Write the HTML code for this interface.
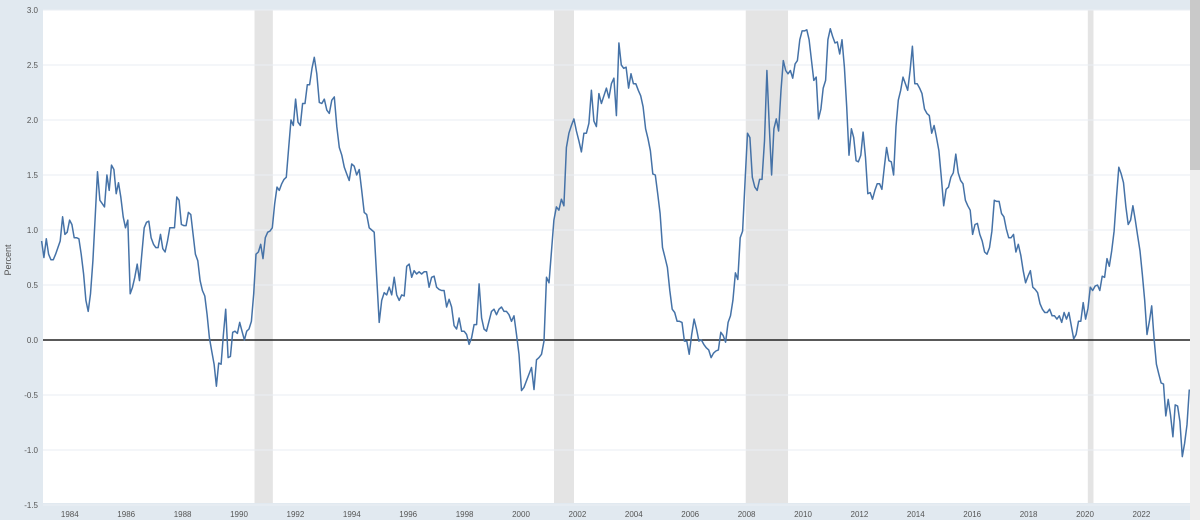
<!DOCTYPE html>
<html><head><meta charset="utf-8">
<style>
html,body{margin:0;padding:0;background:#e1e9f0;}
body{width:1200px;height:520px;overflow:hidden;font-family:"Liberation Sans",sans-serif;}
svg{display:block}
</style></head>
<body>
<svg id="chart" width="1200" height="520" xmlns="http://www.w3.org/2000/svg">
<rect x="0" y="0" width="1200" height="520" fill="#e1e9f0"/>
<rect x="43" y="10" width="1147" height="493" fill="#ffffff"/>
<g id="rec"></g>
<g id="grid"></g>
<g id="yt"></g>
<g id="xt"></g>
<line id="zero" stroke="#222" stroke-width="1.5"/>
<path id="line" fill="none" stroke="#4572a7" stroke-width="1.5" stroke-linejoin="round"/>
<text x="11" y="260" transform="rotate(-90 11 260)" text-anchor="middle" font-size="9" fill="#555">Percent</text>
<rect x="1190" y="0" width="10" height="520" fill="#eeeeee"/>
<rect x="1190" y="0" width="10" height="170" fill="#c9c9c9"/>
</svg>
<script>
const yTicks=[3.0,2.5,2.0,1.5,1.0,0.5,0.0,-0.5,-1.0,-1.5];
const xTicks=[1984,1986,1988,1990,1992,1994,1996,1998,2000,2002,2004,2006,2008,2010,2012,2014,2016,2018,2020,2022];
const recStarts=[1990.55,2001.17,2007.97,2020.1];
const recEnds=[1991.2,2001.88,2009.47,2020.3];
const segStarts=[1983.0,1992.67,2003.47,2008.72,2013.88,2019.6,2021.2];
const segEnds=[1992.67,2003.47,2008.72,2013.88,2019.6,2021.2,2023.7];
const seg1=[0.90,0.75,0.92,0.78,0.73,0.73,0.78,0.84,0.90,1.12,0.96,0.98,1.09,1.05,0.93,0.93,0.92,0.78,0.60,0.36,0.26,0.42,0.72,1.12,1.53,1.27,1.24,1.21,1.50,1.36,1.59,1.55,1.33,1.43,1.30,1.12,1.02,1.09,0.42,0.48,0.57,0.69,0.54,0.78,1.02,1.07,1.08,0.93,0.87,0.84,0.84,0.96,0.83,0.80,0.90,1.02,1.02,1.02,1.30,1.27,1.05,1.04,1.04,1.16,1.14,0.96,0.78,0.72,0.54,0.45,0.40,0.23,0.02,-0.10,-0.22,-0.42,-0.21,-0.22,0.05,0.28,-0.16,-0.15,0.07,0.08,0.06,0.16,0.08,0.00,0.08,0.10,0.17,0.42,0.78,0.80,0.87,0.74,0.93,0.98,0.99,1.02,1.24,1.39,1.36,1.42,1.46,1.48,1.75,2.00,1.95,2.19,1.98,1.95,2.15,2.15,2.32,2.32,2.47,2.57];
const seg2=[2.57,2.42,2.16,2.15,2.19,2.09,2.06,2.18,2.21,1.94,1.75,1.68,1.57,1.51,1.45,1.60,1.58,1.50,1.55,1.36,1.16,1.14,1.02,1.00,0.98,0.57,0.16,0.36,0.43,0.41,0.48,0.41,0.57,0.41,0.36,0.41,0.40,0.67,0.69,0.57,0.63,0.60,0.62,0.60,0.62,0.62,0.48,0.57,0.58,0.48,0.46,0.45,0.45,0.30,0.37,0.30,0.13,0.10,0.20,0.08,0.08,0.05,-0.04,0.02,0.14,0.14,0.51,0.20,0.10,0.08,0.17,0.26,0.28,0.23,0.28,0.30,0.26,0.26,0.23,0.17,0.22,0.05,-0.13,-0.46,-0.43,-0.37,-0.31,-0.25,-0.45,-0.18,-0.16,-0.13,-0.01,0.57,0.52,0.81,1.09,1.21,1.18,1.28,1.22,1.75,1.88,1.95,2.01,1.90,1.81,1.71,1.88,1.88,1.97,2.27,1.99,1.94,2.24,2.15,2.22,2.29,2.20,2.33,2.38,2.04,2.70];
const seg3=[2.70,2.50,2.47,2.48,2.29,2.42,2.33,2.33,2.27,2.22,2.12,1.92,1.83,1.72,1.51,1.50,1.33,1.15,0.84,0.75,0.66,0.45,0.28,0.25,0.17,0.17,0.16,-0.01,-0.01,-0.13,0.05,0.19,0.10,-0.01,0.00,-0.04,-0.07,-0.09,-0.16,-0.12,-0.10,-0.09,0.07,0.04,-0.02,0.16,0.22,0.36,0.61,0.55,0.93,0.99,1.45,1.88,1.84,1.48,1.39,1.36,1.46,1.46,1.81,2.45];
const seg4=[2.45,1.94,1.50,1.92,2.01,1.90,2.27,2.54,2.45,2.42,2.45,2.38,2.51,2.54,2.73,2.81,2.81,2.82,2.73,2.54,2.36,2.39,2.01,2.10,2.29,2.36,2.73,2.83,2.76,2.70,2.71,2.60,2.73,2.48,2.12,1.68,1.92,1.84,1.63,1.62,1.68,1.89,1.66,1.33,1.34,1.28,1.36,1.42,1.42,1.37,1.57,1.75,1.63,1.62,1.50,1.94,2.18,2.27,2.39,2.33,2.27,2.45,2.67];
const seg5=[2.67,2.33,2.33,2.29,2.24,2.10,2.06,2.04,1.88,1.95,1.84,1.72,1.48,1.22,1.37,1.39,1.48,1.52,1.69,1.52,1.45,1.42,1.27,1.22,1.18,0.96,1.05,1.06,0.96,0.90,0.80,0.78,0.84,0.99,1.27,1.26,1.26,1.15,1.12,1.01,0.93,0.93,0.96,0.80,0.87,0.77,0.63,0.52,0.58,0.63,0.48,0.46,0.43,0.33,0.28,0.25,0.25,0.28,0.22,0.22,0.19,0.22,0.16,0.25,0.19,0.25,0.13,0.01];
const seg6=[0.01,0.05,0.17,0.17,0.34,0.19,0.29,0.48,0.45,0.49,0.50,0.45,0.58,0.57,0.74,0.67,0.81,0.99,1.30,1.57];
const seg7=[1.57,1.51,1.43,1.21,1.05,1.09,1.22,1.09,0.95,0.81,0.60,0.36,0.05,0.17,0.31,0.01,-0.22,-0.31,-0.39,-0.40,-0.69,-0.54,-0.68,-0.88,-0.59,-0.60,-0.74,-1.06,-0.94,-0.77,-0.45];
const segValues=[seg1,seg2,seg3,seg4,seg5,seg6,seg7];

const NS="http://www.w3.org/2000/svg";
const X0=43,X1=1190,YT=10,YB=503;
function xs(yr){return 239+28.2*(yr-1990);}
function ys(v){return 340-v*110;}
function mk(tag,attrs,parent){const e=document.createElementNS(NS,tag);for(const k in attrs)e.setAttribute(k,attrs[k]);parent.appendChild(e);return e;}

const rec=document.getElementById('rec');
recStarts.forEach((s,i)=>{
  const r=mk('rect',{x:xs(s),y:YT,width:xs(recEnds[i])-xs(s),height:YB-YT,fill:'#e4e4e4'},rec);
  
  
});
const grid=document.getElementById('grid'),yt=document.getElementById('yt'),xt=document.getElementById('xt');
yTicks.forEach(v=>{
  const l=mk('line',{x1:X0,x2:X1,y1:ys(v),y2:ys(v),stroke:'#eaeef3','stroke-width':1},grid);
  
  
  const t=mk('text',{x:38,y:ys(v)+3,'text-anchor':'end','font-size':8,fill:'#555'},yt);
  t.textContent=v.toFixed(1);
  
  
});
xTicks.forEach(yr=>{
  const t=mk('text',{x:xs(yr),y:517,'text-anchor':'middle','font-size':8,fill:'#555'},xt);
  t.textContent=yr;
  
  
});
const z=document.getElementById('zero');
z.setAttribute('x1',X0);z.setAttribute('x2',X1);z.setAttribute('y1',ys(0));z.setAttribute('y2',ys(0));
let d='';
segValues.forEach((vals,si)=>{
  const s=segStarts[si],e=segEnds[si],n=vals.length;
  vals.forEach((v,i)=>{
    const yr=s+(e-s)*i/(n-1);
    d+=(d?'L':'M')+xs(yr).toFixed(1)+','+ys(v).toFixed(1);
  });
});
document.getElementById('line').setAttribute('d',d);
</script>
</body></html>
